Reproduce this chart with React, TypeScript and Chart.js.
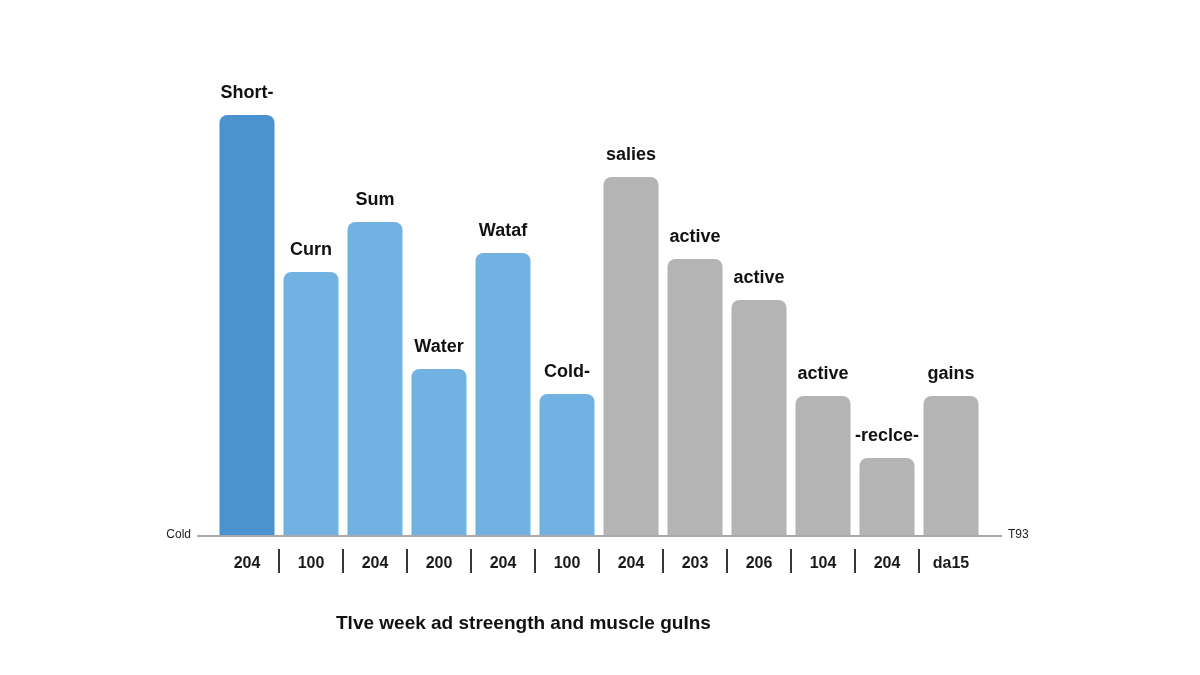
import React, { useEffect, useRef } from "react";
import { Chart, registerables } from "chart.js";

Chart.register(...registerables);

const barLabels = ["Short-", "Curn", "Sum", "Water", "Wataf", "Cold-", "salies", "active", "active", "active", "-reclce-", "gains"];
const tickLabels = ["204", "100", "204", "200", "204", "100", "204", "203", "206", "104", "204", "da15"];
const values = [84, 52.6, 62.6, 33.2, 56.4, 28.2, 71.6, 55.2, 47, 27.8, 15.4, 27.8];
const colors = [
	"#4B92D1", "#71B2E2", "#71B2E2", "#71B2E2", "#71B2E2", "#71B2E2",
	"#B4B4B4", "#B4B4B4", "#B4B4B4", "#B4B4B4", "#B4B4B4", "#B4B4B4",
];
const axisLeftText = "Cold";
const axisRightText = "T93";
const titleText = "Tlve week ad streength and muscle guIns";

const FONT = "'Liberation Sans', Arial, sans-serif";

const decorations = {
	id: "decorations",
	afterDatasetsDraw(chart: any) {
		const { ctx, chartArea } = chart;
		const meta = chart.getDatasetMeta(0);
		const xScale = chart.scales.x;
		const base = chartArea.bottom;
		ctx.save();

		// axis line
		ctx.strokeStyle = "#A9A9A9";
		ctx.lineWidth = 2;
		ctx.beginPath();
		ctx.moveTo(chartArea.left - 18, base + 1);
		ctx.lineTo(chartArea.right + 19, base + 1);
		ctx.stroke();

		// axis end labels
		ctx.fillStyle = "#222";
		ctx.font = `12px ${FONT}`;
		ctx.textBaseline = "middle";
		ctx.textAlign = "right";
		ctx.fillText(axisLeftText, chartArea.left - 24, base);
		ctx.textAlign = "left";
		ctx.fillText(axisRightText, chartArea.right + 25, base);

		// bar labels
		ctx.font = `bold 18px ${FONT}`;
		ctx.textAlign = "center";
		ctx.fillStyle = "#111";
		meta.data.forEach((bar: any, i: number) => {
			ctx.fillText(barLabels[i], bar.x, bar.y - 22);
		});

		// tick labels and separators
		ctx.font = `bold 16px ${FONT}`;
		ctx.fillStyle = "#1a1a1a";
		const step = xScale.getPixelForValue(1) - xScale.getPixelForValue(0);
		tickLabels.forEach((t, i) => {
			const x = xScale.getPixelForValue(i);
			ctx.fillText(t, x, base + 29);
			if (i > 0) {
				const sx = x - step / 2;
				ctx.strokeStyle = "#222";
				ctx.lineWidth = 1.8;
				ctx.beginPath();
				ctx.moveTo(sx, base + 14);
				ctx.lineTo(sx, base + 38);
				ctx.stroke();
			}
		});

		// title
		ctx.font = `bold 19px ${FONT}`;
		ctx.textAlign = "left";
		ctx.fillStyle = "#111";
		ctx.fillText(titleText, 336, 624);
		ctx.restore();
	},
};

const App: React.FC = () => {
	const chartRef = useRef<HTMLCanvasElement>(null);

	useEffect(() => {
		document.body.style.margin = "0";
		if (chartRef && chartRef.current) {
			const chartInstance = new Chart(chartRef.current, {
				type: "bar",
				data: {
					labels: tickLabels,
					datasets: [
						{
							data: values,
							backgroundColor: colors,
							borderRadius: 8,
							borderSkipped: "bottom",
							categoryPercentage: 1,
							barPercentage: 0.86,
						},
					],
				},
				options: {
					animation: false,
					responsive: false,
					maintainAspectRatio: false,
					layout: {
						padding: { left: 215, right: 217, top: 35, bottom: 140 },
					},
					plugins: {
						legend: { display: false },
						tooltip: { enabled: false },
						title: { display: false },
					},
					scales: {
						x: { display: false },
						y: { display: false, min: 0, max: 100 },
					},
				},
				plugins: [decorations],
			} as any);

			return () => {
				chartInstance.destroy();
			};
		}
	}, []);

	return (
		<div style={{ width: 1200, height: 675, background: "#fff" }}>
			<canvas ref={chartRef} width={1200} height={675} />
		</div>
	);
};

export default App;
